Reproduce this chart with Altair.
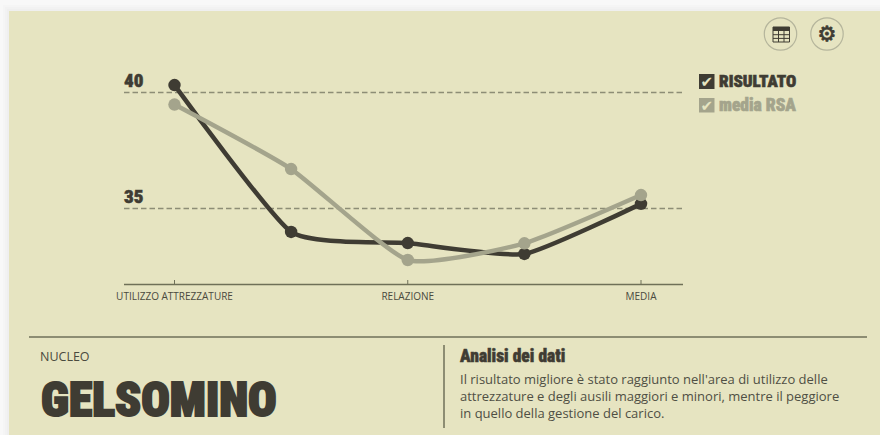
import altair as alt
import pandas as pd

# Chart values
AREE = ["UTILIZZO ATTREZZATURE", "AREA 2", "RELAZIONE", "GESTIONE DEL CARICO", "MEDIA"]
AREE_ETICHETTATE = ["UTILIZZO ATTREZZATURE", "RELAZIONE", "MEDIA"]
RISULTATO = [40.32, 33.99, 33.51, 33.04, 35.2]
MEDIA_RSA = [39.48, 36.7, 32.78, 33.5, 35.58]
LIVELLI = [40, 35]

BODY_LINES = [
    "Il risultato migliore è stato raggiunto nell'area di utilizzo delle",
    "attrezzature e degli ausili maggiori e minori, mentre il peggiore",
    "in quello della gestione del carico.",
]

PANEL = "#e6e4c1"
DARK = "#3f3c33"
SOFT = "#a4a48c"
RULE = "#6f7058"
HEAVY = "Roboto Condensed"
PLAIN = "Open Sans"

x_scale = alt.Scale(type="point", domain=AREE, range=[174.5, 641], padding=0)
y_scale = alt.Scale(domain=[35, 40], range=[208.5, 92.5], nice=False, zero=False)
X = alt.X("area:N", scale=x_scale, axis=None)
Y = alt.Y("valore:Q", scale=y_scale, axis=None)

one_row = alt.Data(values=[{}])


def box(x0, x1, y0, y1, color, **kw):
    return alt.Chart(one_row).mark_rect(color=color, **kw).encode(
        x=alt.value(x0), x2=alt.value(x1), y=alt.value(y0), y2=alt.value(y1)
    )


def line(x0, x1, y0, y1, color, width):
    return alt.Chart(one_row).mark_rule(color=color, strokeWidth=width).encode(
        x=alt.value(x0), x2=alt.value(x1), y=alt.value(y0), y2=alt.value(y1)
    )


def label(text, x, y, size, color, font=PLAIN, heavy=0.0, align="left", **kw):
    opts = dict(fontSize=size, color=color, font=font, align=align, baseline="alphabetic", **kw)
    if heavy:
        opts.update(stroke=color, strokeWidth=heavy, fontWeight=900)
    return alt.Chart(one_row).mark_text(**opts).encode(
        x=alt.value(x), y=alt.value(y), text=alt.value(text)
    )


# Soft shadow steps around the panel, then the panel itself
layers = [box(9 - s, 880, 11 - s, 435, "#000000", opacity=0.012) for s in (6, 4, 2)]
layers.append(box(9, 880, 11, 435, PANEL))

# Horizontal reference levels and their numbers
levels = pd.DataFrame({"valore": LIVELLI})
layers.append(
    alt.Chart(levels).mark_rule(color="#8d8d76", strokeWidth=1.5, strokeDash=[5.5, 3]).encode(
        y=Y, x=alt.value(124), x2=alt.value(683)
    )
)
layers.append(
    alt.Chart(levels).mark_text(
        align="left", baseline="alphabetic", dy=-6, fontSize=19, font=HEAVY, fontWeight=900,
        color=DARK, stroke=DARK, strokeWidth=0.5,
    ).encode(y=Y, x=alt.value(124), text=alt.Text("valore:Q", format="d"))
)

# Category baseline, ticks and labels
layers.append(line(124, 683, 284.5, 284.5, RULE, 1.5))
labelled = pd.DataFrame({"area": AREE_ETICHETTATE})
layers.append(
    alt.Chart(labelled).mark_rule(color=RULE, strokeWidth=1).encode(
        x=X, y=alt.value(280), y2=alt.value(284)
    )
)
layers.append(
    alt.Chart(labelled).mark_text(
        align="center", baseline="alphabetic", fontSize=10, font=PLAIN, color="#4a4a3e"
    ).encode(x=X, y=alt.value(300), text="area:N")
)

# The two series
for values, color in ((RISULTATO, DARK), (MEDIA_RSA, SOFT)):
    frame = pd.DataFrame({"area": AREE, "valore": values})
    layers.append(
        alt.Chart(frame).mark_line(color=color, strokeWidth=4.5, interpolate="cardinal", tension=0.5).encode(x=X, y=Y)
    )
    layers.append(
        alt.Chart(frame).mark_point(color=color, filled=True, opacity=1, size=155).encode(x=X, y=Y)
    )

# Legend
layers += [
    box(699, 714.5, 74, 89, DARK),
    label("✔", 706.8, 87, 15, PANEL, font="DejaVu Sans", align="center"),
    label("RISULTATO", 719, 87, 17, DARK, font=HEAVY, heavy=0.6),
    box(699, 714.5, 98, 112.5, SOFT),
    label("✔", 706.8, 111, 15, PANEL, font="DejaVu Sans", align="center"),
    label("media RSA", 719, 111, 17.5, SOFT, font=HEAVY, heavy=0.6),
]

# Toolbar buttons
buttons = pd.DataFrame({"px": [780.5, 827]})
layers.append(
    alt.Chart(buttons).mark_point(
        shape="circle", size=1050, stroke="#b5b59c", strokeWidth=1.2, filled=False, opacity=1
    ).encode(x=alt.X("px:Q", scale=alt.Scale(domain=[0, 880], range=[0, 880]), axis=None), y=alt.value(34))
)
layers.append(box(773, 789.5, 27, 31, DARK))
layers.append(box(773, 789.5, 27, 42, DARK, fillOpacity=0, stroke=DARK, strokeWidth=1))
for gx in (778.5, 784):
    layers.append(line(gx, gx, 31, 42, DARK, 1))
for gy in (34.7, 38.4):
    layers.append(line(773, 789.5, gy, gy, DARK, 1))
layers.append(label("⚙", 827, 41, 21, DARK, font="DejaVu Sans", align="center", stroke=DARK, strokeWidth=0.8))

# Footer
layers += [
    line(29, 867, 337, 337, RULE, 1.5),
    line(444, 444, 345, 428, RULE, 1.5),
    label("NUCLEO", 40, 361, 12.5, "#4a4a3e"),
    label("GELSOMINO", 41, 416, 47.5, DARK, font=HEAVY, heavy=2),
    label("Analisi dei dati", 460, 362, 17.5, DARK, font=HEAVY, heavy=0.5),
]
for text, baseline_y in zip(BODY_LINES, (384, 401, 418)):
    layers.append(label(text, 460, baseline_y, 13, "#4f4f44"))

chart = (
    alt.layer(*layers)
    .properties(width=880, height=435, padding=0, background="#f8f8f8",
                autosize=alt.AutoSizeParams(type="none"))
    .configure_view(stroke=None)
    .resolve_scale(x="independent")
)

chart.save("out.html", embed_options={"renderer": "svg", "actions": False})
